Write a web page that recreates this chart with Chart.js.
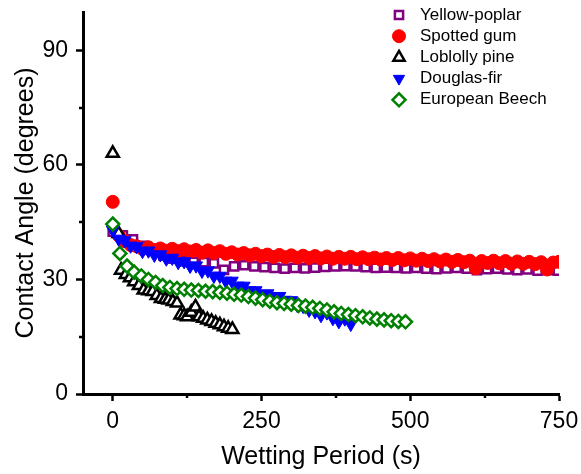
<!DOCTYPE html>
<html>
<head>
<meta charset="utf-8">
<script src="https://cdn.jsdelivr.net/npm/chart.js@4.4.0/dist/chart.umd.min.js"></script>
<style>
  html, body { margin: 0; padding: 0; background: #fff; }
  #wrap { width: 581px; height: 474px; }
</style>
</head>
<body>
<div id="wrap"><canvas id="angleChart" width="581" height="474"></canvas></div>
<script>
// Contact angle vs wetting period, five wood species

const FONT = '"Liberation Sans", Arial, Helvetica, sans-serif';

const xTicks = [0, 250, 500, 750];
const yTicks = [0, 30, 60, 90];
const xMinor = [125, 375, 625];
const yMinor = [15, 45, 75];

// Yellow-poplar
const poplarT = [0, 17, 34, 51, 68, 85, 102, 119, 136, 153, 170, 187, 204, 221, 238, 255, 272, 289, 306, 323,
  340, 357, 374, 391, 408, 425, 442, 459, 476, 493, 510, 527, 544, 561, 578, 595, 612, 629, 646, 663,
  680, 697, 714, 731, 748];
const poplarY = [42.5, 41.5, 40.5, 38.8, 37.5, 36.3, 35.4, 34.7, 34.6, 34.5, 34.2, 32.5, 33.4, 33.7, 33.4, 33.2, 33.0, 32.8, 33.0, 32.9,
  33.1, 33.3, 33.4, 33.5, 33.4, 33.2, 33.0, 33.1, 33.0, 32.9, 33.0, 32.8, 32.7, 32.9, 33.0, 32.8, 32.4, 32.7, 32.8, 32.6,
  32.4, 32.6, 32.3, 32.4, 32.3];

// Spotted gum
const gumT = [0, 10, 20, 30, 40, 50, 60, 70, 80, 90, 100, 110, 120, 130, 140, 150, 160, 170, 180, 190,
  200, 210, 220, 230, 240, 250, 260, 270, 280, 290, 300, 310, 320, 330, 340, 350, 360, 370, 380, 390,
  400, 410, 420, 430, 440, 450, 460, 470, 480, 490, 500, 510, 520, 530, 540, 550, 560, 570, 580, 590,
  600, 610, 620, 630, 640, 650, 660, 670, 680, 690, 700, 710, 720, 730, 740, 750];
const gumY = [50.3, 41.5, 40.0, 39.0, 38.7, 38.0, 38.4, 37.7, 38.1, 37.5, 38.0, 37.4, 37.9, 37.3, 37.7, 37.0, 37.6, 36.9, 37.4, 36.7,
  37.1, 36.5, 36.9, 36.3, 36.7, 36.1, 36.5, 35.9, 36.4, 35.8, 36.3, 35.7, 36.2, 35.6, 36.1, 35.5, 36.0, 35.4, 35.9, 35.4,
  35.9, 35.3, 35.8, 35.3, 35.7, 35.2, 35.6, 35.1, 35.6, 35.0, 35.5, 34.9, 35.4, 34.8, 35.3, 34.7, 35.2, 34.6, 35.1, 34.5,
  34.9, 32.9, 34.8, 34.3, 34.9, 34.2, 34.8, 34.1, 34.7, 34.1, 34.6, 34.0, 34.5, 32.6, 34.4, 34.6];

// Loblolly pine
const pineT = [0, 10, 14, 22, 29, 36, 44, 52, 60, 67, 74, 81, 88, 94, 101, 108, 114, 120, 125, 132, 139, 145, 152, 159, 166, 173, 180, 187, 194, 201];
const pineY = [63, 42, 32.4, 31.3, 30.4, 29.4, 28.4, 27.2, 27.0, 26.8, 25.8, 25.0, 24.8, 24.6, 24.2, 23.8, 20.7, 20.5, 20.2, 21.4, 22.8, 20.2, 19.8, 19.4, 19.0, 18.5, 18.1, 17.6, 17.2, 16.9];

// Douglas-fir
const firT = [0, 10, 20, 30, 40, 50, 60, 70, 80, 90, 100, 110, 120, 130, 140, 150, 160, 170, 180, 190,
  200, 210, 220, 230, 240, 250, 260, 270, 280, 290, 300, 310, 320, 330, 340, 350, 360, 370, 380, 390, 400];
const firY = [43.0, 40.6, 40.2, 38.8, 38.6, 37.4, 37.5, 36.4, 36.5, 35.4, 35.6, 34.5, 34.7, 33.5, 33.6, 32.2, 32.3, 30.9, 30.9, 29.6,
  29.6, 28.3, 28.3, 27.1, 27.1, 26.1, 26.3, 25.5, 25.6, 24.6, 24.5, 23.3, 23.0, 22.0, 21.6, 20.6, 21.3, 19.8, 19.0, 19.7, 18.3];

// European Beech
const beechT = [0, 12, 24, 36, 48, 60, 72, 84, 96, 108, 120, 132, 144, 156, 168, 180, 192, 204, 216, 228,
  240, 252, 264, 276, 288, 300, 312, 324, 336, 348, 360, 372, 384, 396, 408, 420, 432, 444, 456, 468, 480, 492];
const beechY = [44.5, 36.8, 33.5, 31.9, 30.9, 30.0, 29.2, 28.4, 27.9, 27.6, 27.4, 27.2, 27.1, 26.9, 26.8, 26.6, 26.4, 26.1, 25.9, 25.5,
  25.1, 24.7, 24.3, 23.9, 23.7, 23.5, 23.2, 23.0, 22.7, 22.4, 22.0, 21.5, 21.1, 20.8, 20.5, 20.2, 19.9, 19.6, 19.4, 19.2, 19.0, 18.9];

function pts(xs, ys) {
    return xs.map((x, i) => ({ x: x, y: ys[i] }));
}

// minor ticks + legend drawn by hand
const extras = {
    id: 'extras',
    afterDraw(chart) {
        const ctx = chart.ctx;
        const xs = chart.scales.x, ys = chart.scales.y;
        ctx.save();
        ctx.strokeStyle = '#000';
        ctx.lineWidth = 2.5;
        xMinor.forEach(v => {
            const px = Math.round(xs.getPixelForValue(v));
            ctx.beginPath(); ctx.moveTo(px, xs.top); ctx.lineTo(px, xs.top + 4); ctx.stroke();
        });
        yMinor.forEach(v => {
            const py = Math.round(ys.getPixelForValue(v));
            ctx.beginPath(); ctx.moveTo(ys.right, py); ctx.lineTo(ys.right - 4, py); ctx.stroke();
        });

        // legend
        const markerX = 399, textX = 420, top = 15, step = 21.2;
        ctx.font = '17px ' + FONT;
        ctx.textBaseline = 'middle';
        ctx.textAlign = 'left';
        chart.data.datasets.forEach((ds, i) => {
            const y = top + i * step;
            ctx.fillStyle = ds.backgroundColor;
            ctx.strokeStyle = ds.borderColor;
            ctx.lineWidth = ds.borderWidth;
            Chart.helpers.drawPoint(ctx, {
                pointStyle: ds.pointStyle,
                radius: Math.min(ds.pointRadius, 6.5),
                rotation: ds.rotation || 0,
                borderWidth: ds.borderWidth
            }, markerX, y);
            ctx.fillStyle = '#000';
            ctx.fillText(ds.label, textX, y);
        });
        ctx.restore();
    }
};

const ctx = document.getElementById('angleChart').getContext('2d');
const angleChart = new Chart(ctx, {
    type: 'scatter',
    data: {
        datasets: [
            { label: 'Yellow-poplar', data: pts(poplarT, poplarY), pointStyle: 'rect', pointRadius: 5.8,
              backgroundColor: '#fff', borderColor: '#800080', borderWidth: 2.5, order: 5 },
            { label: 'Spotted gum', data: pts(gumT, gumY), pointStyle: 'circle', pointRadius: 6.5,
              backgroundColor: '#ff0000', borderColor: '#ff0000', borderWidth: 1, order: 4 },
            { label: 'Loblolly pine', data: pts(pineT, pineY), pointStyle: 'triangle', pointRadius: 7,
              backgroundColor: '#fff', borderColor: '#000', borderWidth: 2.5, order: 3 },
            { label: 'Douglas-fir', data: pts(firT, firY), pointStyle: 'triangle', pointRadius: 7.5, rotation: 180,
              backgroundColor: '#0000ff', borderColor: '#0000ff', borderWidth: 1, order: 2 },
            { label: 'European Beech', data: pts(beechT, beechY), pointStyle: 'rectRot', pointRadius: 6.5,
              backgroundColor: '#fff', borderColor: '#008000', borderWidth: 2.5, order: 1 }
        ]
    },
    options: {
        responsive: false,
        animation: false,
        events: [],
        layout: { padding: { left: 0, top: 12, right: 22, bottom: 0 } },
        plugins: {
            legend: { display: false },
            tooltip: { enabled: false }
        },
        scales: {
            x: {
                type: 'linear',
                min: -50,
                max: 750,
                afterBuildTicks: s => { s.ticks = xTicks.map(v => ({ value: v })); },
                afterFit: s => { s.height = 80; s.paddingLeft = 0; s.paddingRight = 0; },
                grid: { drawOnChartArea: false, drawTicks: true, tickLength: 7, tickWidth: 2.5, tickColor: '#000' },
                border: { display: true, color: '#000', width: 3 },
                ticks: { color: '#000', font: { family: FONT, size: 23 }, padding: 7, maxRotation: 0 },
                title: { display: true, text: 'Wetting Period (s)', color: '#000',
                         font: { family: FONT, size: 25 }, padding: { top: 0, bottom: 2 } }
            },
            y: {
                type: 'linear',
                min: 0,
                max: 100,
                afterBuildTicks: s => { s.ticks = yTicks.map(v => ({ value: v })); },
                afterFit: s => { s.width = 83; s.paddingTop = 0; s.paddingBottom = 0; },
                grid: { drawOnChartArea: false, drawTicks: true, tickLength: 7, tickWidth: 2.5, tickColor: '#000' },
                border: { display: true, color: '#000', width: 3 },
                ticks: { color: '#000', font: { family: FONT, size: 23 }, padding: 8 },
                title: { display: true, text: 'Contact Angle (degrees)', color: '#000',
                         font: { family: FONT, size: 25 }, padding: { top: 11, bottom: 0 } }
            }
        }
    },
    plugins: [extras]
});
</script>
</body>
</html>
